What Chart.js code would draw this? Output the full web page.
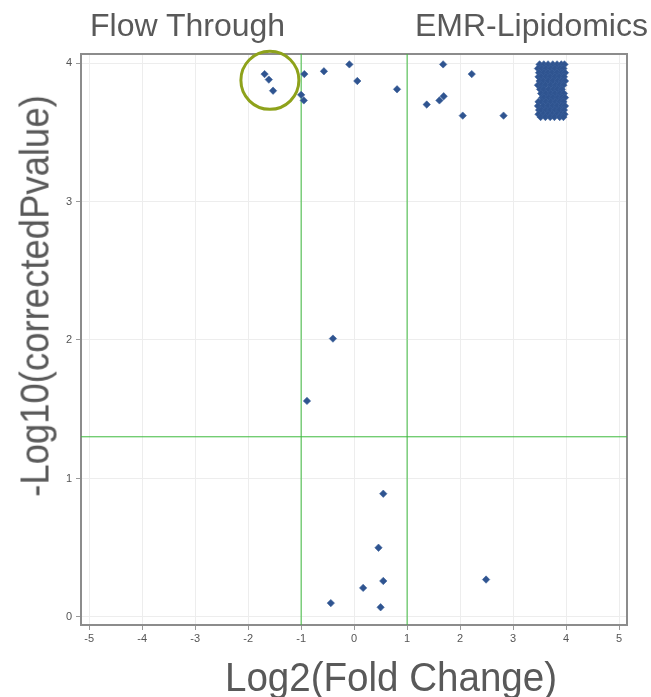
<!DOCTYPE html>
<html lang="en">
<head>
    <meta charset="UTF-8">
    <title>Volcano plot - Flow Through vs EMR-Lipidomics</title>
    <style>
        body {
            margin: 0;
            background: #fff;
            font-family: "Liberation Sans", Arial, sans-serif;
        }
        #wrap {
            position: relative;
            width: 651px;
            height: 697px;
        }
        #chartCanvas {
            position: absolute;
            left: 0;
            top: 0;
        }
        .label {
            position: absolute;
            white-space: nowrap;
            color: #595959;
            line-height: 1;
        }
        .group {
            font-size: 32px;
            top: 9px;
        }
        .axis-title {
            font-size: 41px;
        }
        #xTitle {
            left: 391px;
            top: 677px;
            transform: translate(-50%, -50%) scaleX(0.94);
        }
        #yTitle {
            left: 35px;
            top: 296px;
            transform: translate(-50%, -50%) rotate(-90deg) scaleX(0.89);
        }
    </style>
    <script src="https://cdn.jsdelivr.net/npm/chart.js"></script>
</head>
<body>
    <div id="wrap">
        <canvas id="chartCanvas" width="651" height="697"></canvas>
        <div class="label group" style="left:90px;">Flow Through</div>
        <div class="label group" style="left:415px;">EMR-Lipidomics</div>
        <div class="label axis-title" id="xTitle">Log2(Fold Change)</div>
        <div class="label axis-title" id="yTitle">-Log10(correctedPvalue)</div>
    </div>

    <script>
        // 個別の点 (log2FC, -log10 p)
        const foldX = [-1.69, -1.61, -1.53, -0.94, -0.57, -0.09, 0.06, 0.81, 1.68, 2.22,
                       -1.00, -0.95, 1.37, 1.61, 1.69, 2.05, 2.82,
                       -0.40, -0.89,
                       0.55, 0.46, 0.55, 2.49, 0.17, -0.44, 0.50];
        const pvalY = [3.92, 3.88, 3.80, 3.92, 3.94, 3.99, 3.87, 3.81, 3.99, 3.92,
                       3.77, 3.73, 3.70, 3.73, 3.76, 3.62, 3.62,
                       2.01, 1.56,
                       0.89, 0.50, 0.26, 0.27, 0.21, 0.10, 0.07];

        // 右上の密集した点 (行ごと)
        const clusterRowY = [3.99, 3.96, 3.93, 3.90, 3.87, 3.84, 3.81, 3.78, 3.75, 3.72, 3.69, 3.66, 3.63, 3.61];
        const clusterRowX = [
            [3.50, 3.58, 3.66, 3.75, 3.83, 3.91, 3.97],
            [3.47, 3.54, 3.62, 3.71, 3.79, 3.88, 3.95],
            [3.49, 3.58, 3.66, 3.74, 3.83, 3.92, 3.98],
            [3.48, 3.53, 3.62, 3.70, 3.79, 3.87, 3.96],
            [3.50, 3.57, 3.66, 3.75, 3.84, 3.92, 3.98],
            [3.47, 3.54, 3.61, 3.71, 3.80, 3.88, 3.95],
            [3.51, 3.58, 3.67, 3.76, 3.84, 3.92],
            [3.53, 3.62, 3.71, 3.79, 3.88, 3.96],
            [3.55, 3.58, 3.67, 3.75, 3.84, 3.92, 3.98],
            [3.48, 3.54, 3.62, 3.71, 3.80, 3.88, 3.95],
            [3.47, 3.57, 3.66, 3.75, 3.83, 3.92, 3.98],
            [3.49, 3.53, 3.62, 3.70, 3.79, 3.87, 3.96],
            [3.48, 3.57, 3.66, 3.74, 3.83, 3.91, 3.97],
            [3.52, 3.61, 3.70, 3.78, 3.88, 3.95]
        ];

        // 閾値 (|log2FC| = 1, p = 0.05)
        const foldCut = [-1, 1];
        const pvalCut = [1.301];

        // 丸で囲んだ点の中心
        const circleAt = [{ x: -1.59, y: 3.875 }];

        const xMin = -5.155, xMax = 5.15;
        const yMin = -0.058, yMax = 4.065;

        const points = foldX.map((x, i) => ({ x: x, y: pvalY[i] }));
        clusterRowX.forEach((row, r) => {
            row.forEach(x => points.push({ x: x, y: clusterRowY[r] }));
        });

        const green = '#3dba3d';
        const cutLines = [];
        foldCut.forEach(v => cutLines.push({
            data: [{ x: v, y: yMin }, { x: v, y: yMax }],
            showLine: true, borderColor: green, borderWidth: 1, pointRadius: 0, order: 5
        }));
        pvalCut.forEach(v => cutLines.push({
            data: [{ x: xMin, y: v }, { x: xMax, y: v }],
            showLine: true, borderColor: green, borderWidth: 1, pointRadius: 0, order: 5
        }));

        // 枠線
        const frame = {
            id: 'frame',
            beforeDatasetsDraw(chart) {
                const a = chart.chartArea;
                const ctx = chart.ctx;
                ctx.save();
                ctx.strokeStyle = '#8c8c8c';
                ctx.lineWidth = 2;
                ctx.strokeRect(a.left, a.top, a.right - a.left, a.bottom - a.top);
                ctx.restore();
            }
        };

        const tickFont = { family: '"Liberation Sans", Arial, sans-serif', size: 11 };

        new Chart(document.getElementById('chartCanvas'), {
            type: 'scatter',
            data: {
                datasets: [
                    {
                        data: points,
                        pointStyle: 'rectRot',
                        pointRadius: 3.7,
                        backgroundColor: '#2f5490',
                        borderColor: '#3b5f9a',
                        borderWidth: 0.6,
                        order: 1
                    },
                    {
                        data: circleAt,
                        pointStyle: 'circle',
                        pointRadius: 29,
                        backgroundColor: 'rgba(0,0,0,0)',
                        borderColor: '#8ea21b',
                        borderWidth: 3,
                        clip: false,
                        order: 0
                    },
                    ...cutLines
                ]
            },
            plugins: [frame],
            options: {
                responsive: false,
                animation: false,
                devicePixelRatio: 1,
                layout: { autoPadding: false, padding: { top: 54, right: 24, left: 0, bottom: 0 } },
                plugins: {
                    legend: { display: false },
                    tooltip: { enabled: false }
                },
                scales: {
                    x: {
                        type: 'linear',
                        min: xMin,
                        max: xMax,
                        afterFit(scale) {
                            scale.height = 72;
                        },
                        ticks: {
                            stepSize: 1,
                            includeBounds: false,
                            color: '#555',
                            font: tickFont,
                            padding: 2,
                            maxRotation: 0
                        },
                        grid: { color: '#ededed', tickColor: '#999', tickLength: 5 },
                        border: { display: false }
                    },
                    y: {
                        type: 'linear',
                        min: yMin,
                        max: yMax,
                        afterFit(scale) {
                            scale.width = 81;
                        },
                        ticks: {
                            stepSize: 1,
                            includeBounds: false,
                            color: '#555',
                            font: tickFont,
                            padding: 4
                        },
                        grid: { color: '#ededed', tickColor: '#999', tickLength: 5 },
                        border: { display: false }
                    }
                }
            }
        });
    </script>
</body>
</html>
